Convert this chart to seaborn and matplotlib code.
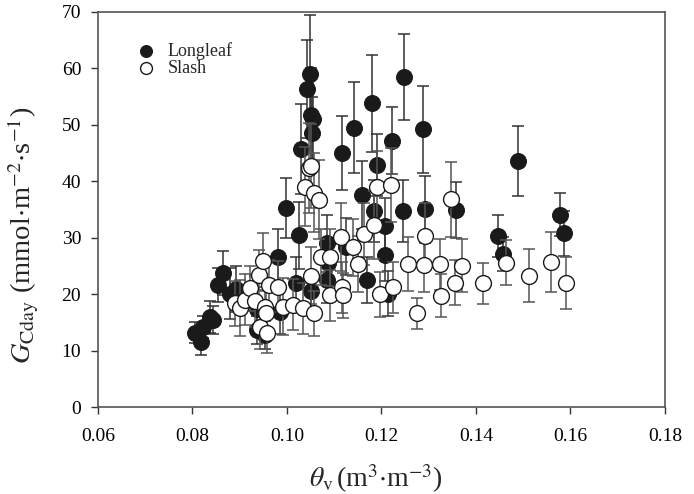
import numpy as np
import pandas as pd
import matplotlib
matplotlib.use('Agg')
import matplotlib.pyplot as plt
import seaborn as sns

# Longleaf (filled circles): soil moisture, GCday, error bar half-length
longleaf_x = [0.0805, 0.0819, 0.0823, 0.0837, 0.0844, 0.0855, 0.0865, 0.0879, 0.0893, 0.0936,
              0.0936, 0.0953, 0.0985, 0.0982, 0.0999, 0.1019, 0.1025, 0.1030, 0.1042, 0.1049,
              0.1051, 0.1056, 0.1054, 0.1051, 0.1084, 0.1087, 0.1086, 0.1117, 0.1125, 0.1143,
              0.1158, 0.1169, 0.1181, 0.1185, 0.1191, 0.1207, 0.1207, 0.1215, 0.1222, 0.1245,
              0.1248, 0.1289, 0.1292, 0.1357, 0.1447, 0.1458, 0.1490, 0.1578, 0.1586]
longleaf_y = [13.2, 11.6, 14.2, 16.0, 15.4, 21.6, 23.8, 20.1, 20.9, 13.6,
              17.3, 12.8, 16.9, 26.6, 35.3, 22.0, 30.4, 45.7, 56.3, 59.0,
              51.7, 51.0, 48.6, 20.6, 22.5, 25.5, 29.0, 45.0, 28.4, 49.5,
              37.5, 22.5, 53.8, 34.8, 42.8, 32.1, 26.9, 20.1, 47.2, 34.7,
              58.5, 49.2, 35.0, 34.9, 30.3, 27.1, 43.6, 34.1, 30.8]
longleaf_err = [1.8, 2.3, 2.0, 2.8, 2.5, 3.0, 3.9, 4.5, 4.0, 2.5,
                4.0, 2.5, 4.0, 5.0, 5.3, 4.5, 6.0, 8.0, 8.7, 10.5,
                8.4, 8.0, 6.4, 3.5, 4.0, 4.0, 5.0, 6.5, 5.0, 8.0,
                6.0, 4.0, 8.6, 5.5, 5.5, 5.0, 4.5, 4.0, 6.0, 5.5,
                7.6, 7.7, 5.9, 5.0, 3.8, 3.0, 6.2, 3.8, 4.0]

# Slash (open circles)
slash_x = [0.0890, 0.0900, 0.0911, 0.0922, 0.0932, 0.0941, 0.0944, 0.0950, 0.0953, 0.0956,
           0.0958, 0.0962, 0.0982, 0.0992, 0.1013, 0.1034, 0.1038, 0.1047, 0.1052, 0.1052,
           0.1057, 0.1058, 0.1068, 0.1073, 0.1091, 0.1091, 0.1114, 0.1116, 0.1119, 0.1140,
           0.1150, 0.1164, 0.1185, 0.1191, 0.1197, 0.1221, 0.1225, 0.1256, 0.1276, 0.1291,
           0.1293, 0.1324, 0.1327, 0.1348, 0.1356, 0.1370, 0.1415, 0.1463, 0.1513, 0.1560,
           0.1591]
slash_y = [18.4, 17.5, 19.0, 21.0, 18.7, 23.4, 14.2, 25.8, 17.8, 16.6,
           13.1, 21.6, 21.3, 17.8, 18.1, 17.5, 39.0, 42.4, 42.7, 23.3,
           38.0, 16.6, 36.7, 26.6, 26.5, 19.8, 30.1, 21.2, 19.8, 28.3,
           25.3, 30.6, 32.2, 38.9, 20.0, 39.3, 21.2, 25.3, 16.6, 25.2,
           30.3, 25.3, 19.7, 36.8, 22.0, 25.0, 21.9, 25.6, 23.3, 25.7,
           22.0]
slash_err = [4.0, 5.0, 4.5, 4.0, 4.5, 4.5, 4.0, 5.0, 4.5, 4.0,
             3.5, 4.5, 4.5, 5.0, 4.5, 4.5, 7.0, 8.0, 7.5, 5.0,
             7.0, 4.0, 7.0, 5.0, 5.0, 4.5, 6.0, 4.5, 4.0, 5.0,
             5.0, 5.5, 6.0, 6.5, 4.0, 6.5, 4.5, 4.8, 2.8, 4.8,
             5.8, 4.5, 3.8, 6.6, 4.0, 4.7, 3.6, 4.0, 4.7, 5.3,
             4.6]

sns.set_style('ticks')
plt.rcParams['font.family'] = ['Liberation Serif', 'DejaVu Serif']
plt.rcParams['mathtext.fontset'] = 'stix'

df_long = pd.DataFrame({'theta': longleaf_x, 'gc': longleaf_y, 'err': longleaf_err})
df_slash = pd.DataFrame({'theta': slash_x, 'gc': slash_y, 'err': slash_err})

fig = plt.figure(figsize=(6.94, 4.94), dpi=100)
ax = fig.add_axes([0.141, 0.176, 0.817, 0.8])

# Longleaf: error bars then markers
ax.errorbar(df_long['theta'], df_long['gc'], yerr=df_long['err'], fmt='none',
            ecolor='#333333', elinewidth=1.1, capsize=4.5, capthick=1.1, zorder=1)
sns.scatterplot(data=df_long, x='theta', y='gc', ax=ax, s=130, color='#1a1a1a',
                edgecolor='#1a1a1a', linewidth=0.8, zorder=2, label='Longleaf')

# Slash
ax.errorbar(df_slash['theta'], df_slash['gc'], yerr=df_slash['err'], fmt='none',
            ecolor='#555555', elinewidth=1.1, capsize=4.5, capthick=1.1, zorder=3)
sns.scatterplot(data=df_slash, x='theta', y='gc', ax=ax, s=130, color='white',
                edgecolor='#1a1a1a', linewidth=1.0, zorder=4, label='Slash')

ax.set_xlim(0.06, 0.18)
ax.set_ylim(0, 70)
ax.set_xticks(np.arange(0.06, 0.181, 0.02))
ax.set_xticklabels(['0.06', '0.08', '0.10', '0.12', '0.14', '0.16', '0.18'])
ax.set_yticks(range(0, 71, 10))
ax.tick_params(direction='out', length=5, width=1, colors='#333333', labelsize=14,
               labelcolor='black')
ax.tick_params(axis='x', pad=10)
ax.tick_params(axis='y', pad=7)
for sp in ax.spines.values():
    sp.set_color('#555555')
    sp.set_linewidth(1.2)
    sp.set_visible(True)

ax.set_xlabel(r'$\theta_{\mathrm{v}}\,$(m$^{3}$$\cdot$m$^{-3}$)', fontsize=20)
ax.set_ylabel(r'$G_{\mathrm{Cday}}$ (mmol$\cdot$m$^{-2}$$\cdot$s$^{-1}$)', fontsize=20.5)
ax.yaxis.set_label_coords(-0.1, 0.435)
ax.xaxis.set_label_coords(0.49, -0.14)

leg = ax.legend(loc='upper left', bbox_to_anchor=(0.025, 0.965), frameon=False,
                fontsize=13, handletextpad=0.2, labelspacing=0.0, markerscale=0.75)

fig.savefig('out.png', dpi=100)
